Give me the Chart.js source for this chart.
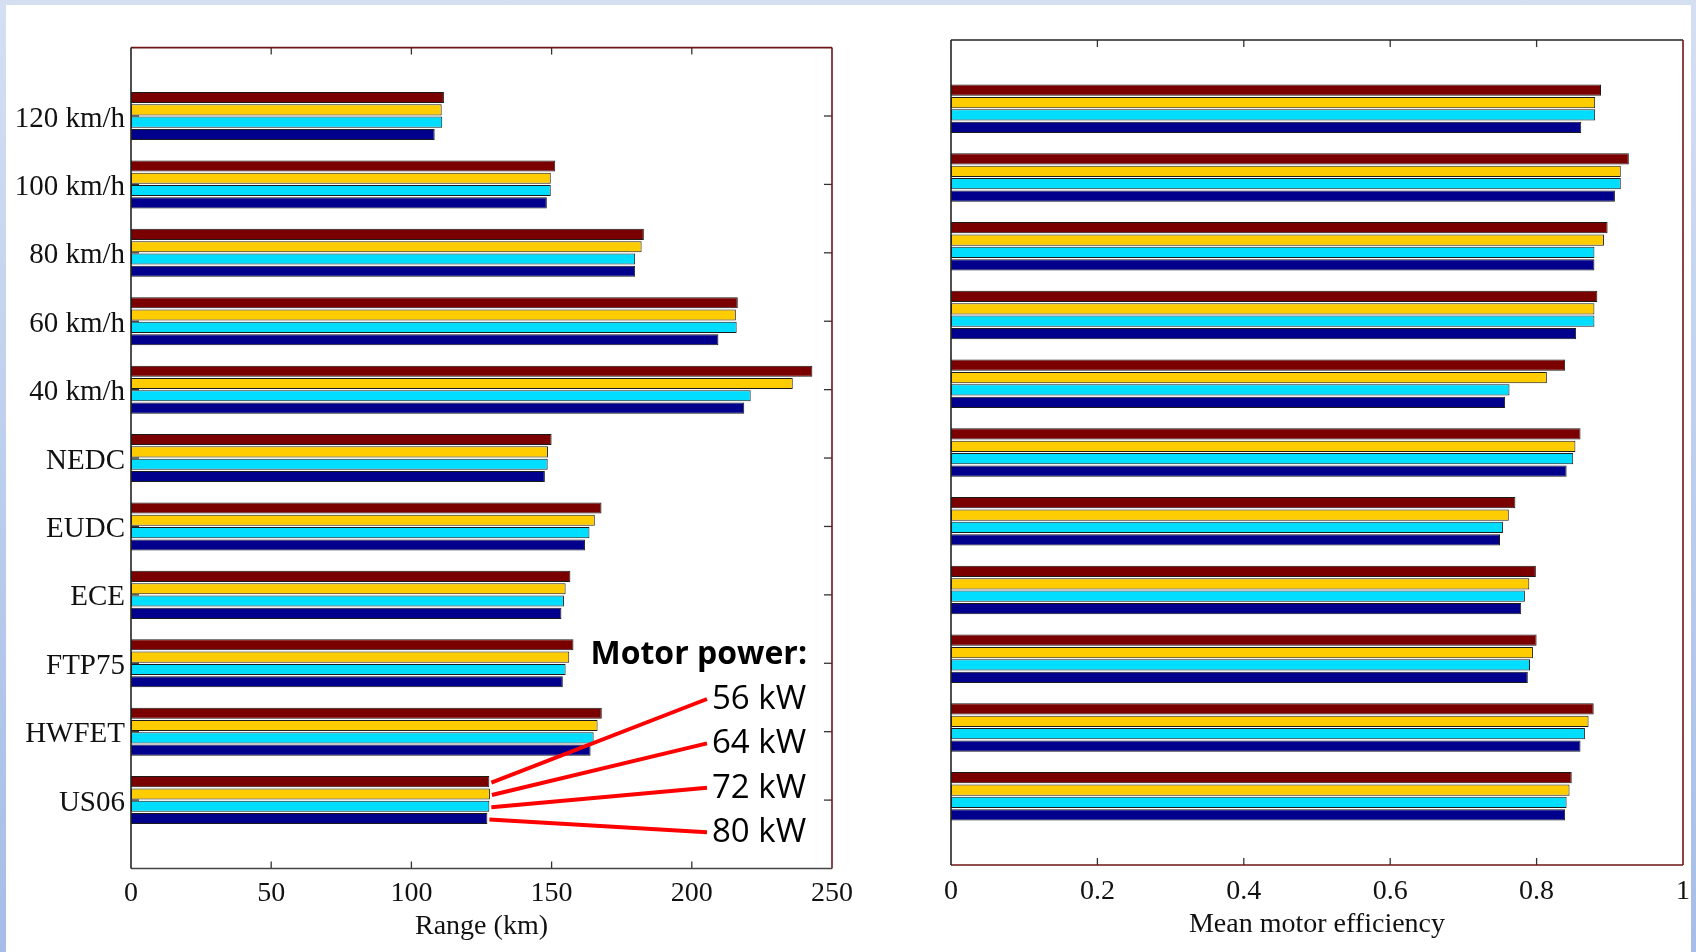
<!DOCTYPE html>
<html><head><meta charset="utf-8">
<script src="https://cdn.jsdelivr.net/npm/chart.js@4.4.1/dist/chart.umd.min.js"></script>
<style>
html,body{margin:0;padding:0;}
body{width:1696px;height:952px;overflow:hidden;position:relative;background:linear-gradient(to bottom,#d4dff2,#a5bde8);}
#sheet{position:absolute;left:6px;top:5px;width:1685px;height:947px;background:#fff;}
canvas{position:absolute;top:0;}
#c1{left:0}
#c2{left:900px}
</style></head><body>
<div id="sheet"></div>
<canvas id="c1" width="900" height="952"></canvas>
<canvas id="c2" width="796" height="952"></canvas>
<script>
// ---- data ----
const categories = ['120 km/h','100 km/h','80 km/h','60 km/h','40 km/h','NEDC','EUDC','ECE','FTP75','HWFET','US06'];
const seriesNames = ['56 kW','64 kW','72 kW','80 kW'];
const seriesColors = ['#7a0000','#ffcc00','#00ddff','#00008c'];

const range56 = [111.6, 151.3, 182.9, 216.4, 243.0, 150.0, 167.8, 156.7, 157.8, 167.9, 127.8];
const range64 = [110.8, 149.7, 182.1, 215.7, 236.0, 148.7, 165.4, 155.0, 156.3, 166.4, 128.0];
const range72 = [111.0, 149.7, 179.8, 216.0, 221.0, 148.6, 163.5, 154.4, 155.0, 165.0, 127.8];
const range80 = [108.3, 148.3, 179.8, 209.5, 218.7, 147.6, 161.9, 153.5, 154.0, 163.9, 127.1];

const eff56 = [0.888, 0.926, 0.897, 0.883, 0.839, 0.860, 0.771, 0.799, 0.800, 0.878, 0.848];
const eff64 = [0.880, 0.915, 0.892, 0.879, 0.814, 0.853, 0.762, 0.790, 0.795, 0.871, 0.845];
const eff72 = [0.880, 0.915, 0.879, 0.879, 0.763, 0.850, 0.754, 0.784, 0.791, 0.866, 0.841];
const eff80 = [0.861, 0.907, 0.879, 0.854, 0.757, 0.841, 0.750, 0.779, 0.788, 0.860, 0.839];

const rangeTicks = [0, 50, 100, 150, 200, 250];
const effTicks = [0, 0.2, 0.4, 0.6, 0.8, 1];
const effTickLabels = ['0', '0.2', '0.4', '0.6', '0.8', '1'];

const annotTitle = 'Motor power:';
const annotCategory = 'US06';

// ---- helpers ----
const labels = ['', ...categories, ''];
const pad = arr => [null, ...arr, null];
const serif = '"Liberation Serif", "Times New Roman", serif';

function datasets(arrs) {
  return arrs.map((a, i) => ({
    label: seriesNames[i],
    data: pad(a),
    backgroundColor: seriesColors[i],
    borderColor: '#1a1a1a',
    borderWidth: 1,
    borderSkipped: false,
    categoryPercentage: 0.72,
    barPercentage: 0.9
  }));
}

const boxPlugin = {
  id: 'box',
  afterDatasetsDraw(chart, args, o) {
    const {ctx, chartArea: a, scales: {x, y}} = chart;
    const line = (x1, y1, x2, y2) => { ctx.beginPath(); ctx.moveTo(x1, y1); ctx.lineTo(x2, y2); ctx.stroke(); };
    ctx.save();
    ctx.lineWidth = 1.3;
    ctx.strokeStyle = '#333';
    x.ticks.forEach(t => {
      const px = x.getPixelForValue(t.value);
      if (px <= a.left + 1 || px >= a.right - 1) return;
      line(px, a.top, px, a.top + 7);
      line(px, a.bottom, px, a.bottom - 7);
    });
    if (o.yTicks) {
      chart.data.labels.forEach((l, i) => {
        if (!l) return;
        const py = y.getPixelForValue(i);
        line(a.left, py, a.left + 8, py);
        line(a.right, py, a.right - 8, py);
      });
    }
    ctx.lineWidth = 1.6;
    ctx.strokeStyle = o.top; line(a.left, a.top, a.right, a.top);
    ctx.strokeStyle = o.right; line(a.right, a.top, a.right, a.bottom);
    ctx.strokeStyle = o.bottom; line(a.left, a.bottom, a.right, a.bottom);
    ctx.strokeStyle = o.left; line(a.left, a.top, a.left, a.bottom);
    ctx.restore();
  }
};

const annotPlugin = {
  id: 'annot',
  afterDraw(chart, args, o) {
    if (!o.show) return;
    const {ctx} = chart;
    const idx = chart.data.labels.indexOf(annotCategory);
    ctx.save();
    ctx.fillStyle = '#000';
    ctx.textBaseline = 'alphabetic';
    ctx.font = 'bold 32px "Open Sans", "Noto Sans", sans-serif';
    ctx.textAlign = 'right';
    ctx.fillText(annotTitle, o.titleRight, o.titleBase);
    ctx.font = '33px "Open Sans", "Noto Sans", sans-serif';
    ctx.textAlign = 'left';
    seriesNames.forEach((name, i) => {
      const base = o.firstBase + i * o.step;
      ctx.fillText(name, o.labelLeft, base);
      const bar = chart.getDatasetMeta(i).data[idx];
      ctx.strokeStyle = '#ff0000';
      ctx.lineWidth = 4;
      ctx.lineCap = 'butt';
      ctx.beginPath();
      ctx.moveTo(bar.x + 2, bar.y + 1);
      ctx.lineTo(o.labelLeft - 5, base - 10);
      ctx.stroke();
    });
    ctx.restore();
  }
};

function build(canvas, arrs, cfg) {
  return new Chart(canvas, {
    type: 'bar',
    data: {labels, datasets: datasets(arrs)},
    plugins: [boxPlugin, annotPlugin],
    options: {
      indexAxis: 'y',
      responsive: false,
      animation: false,
      devicePixelRatio: 1,
      layout: {padding: cfg.padding},
      plugins: {
        legend: {display: false},
        tooltip: {enabled: false},
        box: cfg.box,
        annot: cfg.annot
      },
      scales: {
        x: {
          type: 'linear',
          position: 'bottom',
          min: cfg.ticks[0],
          max: cfg.ticks[cfg.ticks.length - 1],
          afterBuildTicks: s => { s.ticks = cfg.ticks.map(v => ({value: v})); },
          afterFit: s => { s.height = cfg.xHeight; s.paddingLeft = 0; s.paddingRight = 0; },
          grid: {display: false, drawTicks: false},
          border: {display: false},
          ticks: {
            color: '#111',
            font: {family: serif, size: 28},
            padding: cfg.xTickPad,
            maxRotation: 0,
            autoSkip: false,
            callback: (v, i) => cfg.tickLabels ? cfg.tickLabels[i] : String(v)
          },
          title: {
            display: true,
            text: cfg.title,
            color: '#111',
            font: {family: serif, size: 28},
            padding: {top: 0, bottom: cfg.titlePad}
          }
        },
        y: {
          type: 'category',
          offset: false,
          afterFit: s => { s.width = cfg.yWidth; s.paddingTop = 0; s.paddingBottom = 0; },
          grid: {display: false, drawTicks: false},
          border: {display: false},
          ticks: {
            display: cfg.yLabels,
            color: '#111',
            font: {family: serif, size: 29},
            padding: 6,
            labelOffset: 3,
            autoSkip: false
          }
        }
      }
    }
  });
}

function draw() {
  build(document.getElementById('c1'), [range56, range64, range72, range80], {
    padding: {left: 0, top: 47.6, right: 68, bottom: 0},
    ticks: rangeTicks,
    xHeight: 83.5,
    xTickPad: 8.5,
    title: 'Range (km)',
    titlePad: 8.5,
    yWidth: 131,
    yLabels: true,
    box: {yTicks: true, top: '#6e1414', right: '#6e1414', bottom: '#444', left: '#222'},
    annot: {show: true, titleRight: 807, titleBase: 664, labelLeft: 712, firstBase: 709, step: 44.4}
  });
  build(document.getElementById('c2'), [eff56, eff64, eff72, eff80], {
    padding: {left: 0, top: 40, right: 13, bottom: 0},
    ticks: effTicks,
    tickLabels: effTickLabels,
    xHeight: 87,
    xTickPad: 9.7,
    title: 'Mean motor efficiency',
    titlePad: 10.3,
    yWidth: 51,
    yLabels: false,
    box: {yTicks: false, top: '#222', right: '#6e1414', bottom: '#6e1414', left: '#222'},
    annot: {show: false}
  });
}

const fl = document.fonts && document.fonts.load
  ? Promise.all([
      document.fonts.load('28px "Liberation Serif"'),
      document.fonts.load('bold 32px "Open Sans"'),
      document.fonts.load('33px "Open Sans"')
    ]).catch(() => {})
  : Promise.resolve();
fl.then(draw);
</script>
</body></html>
